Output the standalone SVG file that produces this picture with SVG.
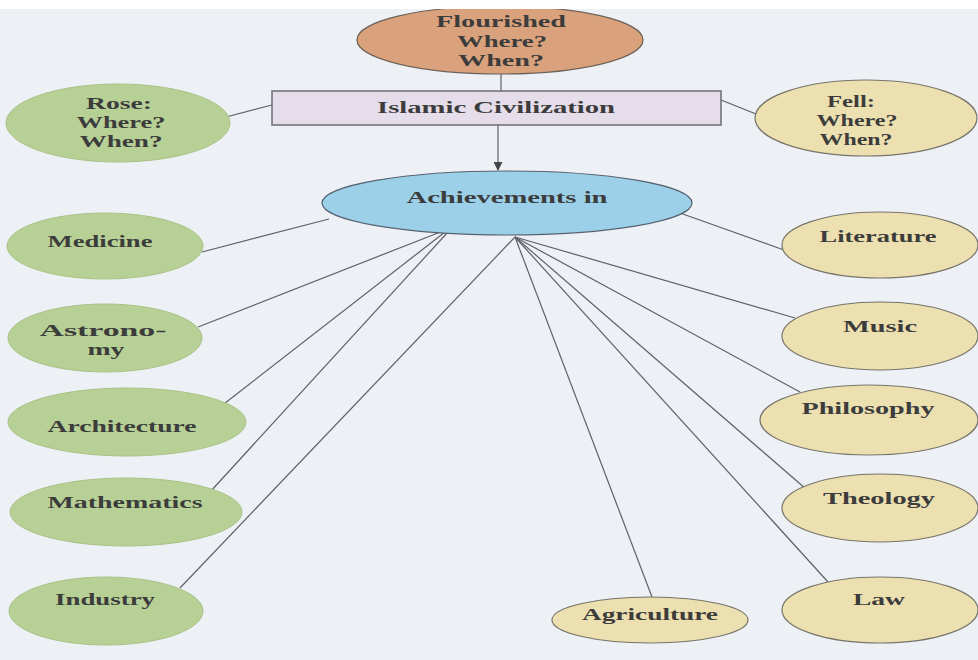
<svg xmlns="http://www.w3.org/2000/svg" width="978" height="660" viewBox="0 0 978 660">
  <style>
    .lbl { font-family: "Liberation Serif", "Times New Roman", serif; font-weight: bold; font-size: 17px; fill: #3c3c3c; text-anchor: middle; }
    .multi { font-size: 16px; }
    .conn { stroke: #5f6166; stroke-width: 1.2; fill: none; }
    .green { fill: #b7d095; stroke: #a9c287; stroke-width: 1; }
    .sand { fill: #ece0b0; stroke: #77746a; stroke-width: 1.2; }
  </style>
  <defs>
    <marker id="arrow" viewBox="0 0 10 10" refX="9" refY="5" markerWidth="9" markerHeight="9" orient="auto" markerUnits="userSpaceOnUse">
      <path d="M0,0 L10,5 L0,10 z" fill="#444"/>
    </marker>
  </defs>

  <!-- page -->
  <rect x="0" y="0" width="978" height="660" fill="#edf0f4"/>

  <!-- connectors -->
  <g id="connectors">
    <line class="conn" x1="501" y1="74" x2="501" y2="91"/>
    <line class="conn" x1="498" y1="125" x2="498" y2="170" marker-end="url(#arrow)"/>
    <line class="conn" x1="226" y1="117" x2="272" y2="105"/>
    <line class="conn" x1="721" y1="100" x2="756" y2="114"/>
    <line class="conn" x1="202" y1="252" x2="329" y2="219"/>
    <line class="conn" x1="198" y1="327" x2="443" y2="231"/>
    <line class="conn" x1="220" y1="407" x2="445" y2="232"/>
    <line class="conn" x1="210" y1="492" x2="448" y2="232"/>
    <line class="conn" x1="180" y1="588" x2="515" y2="237"/>
    <line class="conn" x1="652" y1="597" x2="515" y2="237"/>
    <line class="conn" x1="828" y1="582" x2="515" y2="237"/>
    <line class="conn" x1="806" y1="489" x2="515" y2="237"/>
    <line class="conn" x1="800" y1="392" x2="515" y2="237"/>
    <line class="conn" x1="795" y1="318" x2="515" y2="237"/>
    <line class="conn" x1="680" y1="213" x2="784" y2="250"/>
  </g>

  <g id="flourished">
    <ellipse cx="500" cy="40" rx="143" ry="34" fill="#daa27c" stroke="#6e6258" stroke-width="1.2"/>
    <text class="lbl multi" x="501" y="27" textLength="130" lengthAdjust="spacingAndGlyphs">Flourished</text>
    <text class="lbl multi" x="502" y="47" textLength="90" lengthAdjust="spacingAndGlyphs">Where?</text>
    <text class="lbl multi" x="501" y="66" textLength="86" lengthAdjust="spacingAndGlyphs">When?</text>
  </g>

  <!-- top edge of the sheet -->
  <rect x="0" y="0" width="978" height="9" fill="#ffffff"/>

  <g id="islamic-civilization">
    <rect x="272" y="91" width="449" height="34" fill="#e5dde9" stroke="#6c6b73" stroke-width="1.5"/>
    <text class="lbl" x="496" y="113" textLength="238" lengthAdjust="spacingAndGlyphs">Islamic Civilization</text>
  </g>

  <g id="rose">
    <ellipse class="green" cx="118" cy="123" rx="112" ry="39"/>
    <text class="lbl multi" x="119" y="109" textLength="66" lengthAdjust="spacingAndGlyphs">Rose:</text>
    <text class="lbl multi" x="121" y="128" textLength="89" lengthAdjust="spacingAndGlyphs">Where?</text>
    <text class="lbl multi" x="121" y="147" textLength="83" lengthAdjust="spacingAndGlyphs">When?</text>
  </g>

  <g id="fell">
    <ellipse class="sand" cx="866" cy="118" rx="111" ry="38"/>
    <text class="lbl multi" x="851" y="107" textLength="48" lengthAdjust="spacingAndGlyphs">Fell:</text>
    <text class="lbl multi" x="857" y="126" textLength="81" lengthAdjust="spacingAndGlyphs">Where?</text>
    <text class="lbl multi" x="856" y="145" textLength="73" lengthAdjust="spacingAndGlyphs">When?</text>
  </g>

  <g id="achievements">
    <ellipse cx="507" cy="203" rx="185" ry="32" fill="#9bd0e8" stroke="#566270" stroke-width="1.2"/>
    <text class="lbl" x="507" y="203" textLength="201" lengthAdjust="spacingAndGlyphs">Achievements in</text>
  </g>

  <g id="medicine">
    <ellipse class="green" cx="105" cy="246" rx="98" ry="33"/>
    <text class="lbl" x="100" y="247" textLength="105" lengthAdjust="spacingAndGlyphs">Medicine</text>
  </g>

  <g id="astronomy">
    <ellipse class="green" cx="105" cy="338" rx="97" ry="34"/>
    <text class="lbl multi" x="103" y="336" textLength="127" lengthAdjust="spacingAndGlyphs">Astrono-</text>
    <text class="lbl multi" x="106" y="355" textLength="37" lengthAdjust="spacingAndGlyphs">my</text>
  </g>

  <g id="architecture">
    <ellipse class="green" cx="127" cy="422" rx="119" ry="34"/>
    <text class="lbl" x="122" y="432" textLength="149" lengthAdjust="spacingAndGlyphs">Architecture</text>
  </g>

  <g id="mathematics">
    <ellipse class="green" cx="126" cy="512" rx="116" ry="34"/>
    <text class="lbl" x="125" y="508" textLength="155" lengthAdjust="spacingAndGlyphs">Mathematics</text>
  </g>

  <g id="industry">
    <ellipse class="green" cx="106" cy="611" rx="97" ry="34"/>
    <text class="lbl" x="105" y="605" textLength="100" lengthAdjust="spacingAndGlyphs">Industry</text>
  </g>

  <g id="literature">
    <ellipse class="sand" cx="880" cy="245" rx="98" ry="33"/>
    <text class="lbl" x="878" y="242" textLength="117" lengthAdjust="spacingAndGlyphs">Literature</text>
  </g>

  <g id="music">
    <ellipse class="sand" cx="880" cy="336" rx="98" ry="34"/>
    <text class="lbl" x="880" y="332" textLength="74" lengthAdjust="spacingAndGlyphs">Music</text>
  </g>

  <g id="philosophy">
    <ellipse class="sand" cx="869" cy="420" rx="109" ry="35"/>
    <text class="lbl" x="868" y="414" textLength="133" lengthAdjust="spacingAndGlyphs">Philosophy</text>
  </g>

  <g id="theology">
    <ellipse class="sand" cx="880" cy="508" rx="98" ry="34"/>
    <text class="lbl" x="879" y="504" textLength="112" lengthAdjust="spacingAndGlyphs">Theology</text>
  </g>

  <g id="law">
    <ellipse class="sand" cx="880" cy="610" rx="98" ry="33"/>
    <text class="lbl" x="879" y="605" textLength="52" lengthAdjust="spacingAndGlyphs">Law</text>
  </g>

  <g id="agriculture">
    <ellipse class="sand" cx="650" cy="620" rx="98" ry="23"/>
    <text class="lbl" x="650" y="620" textLength="136" lengthAdjust="spacingAndGlyphs">Agriculture</text>
  </g>
</svg>
